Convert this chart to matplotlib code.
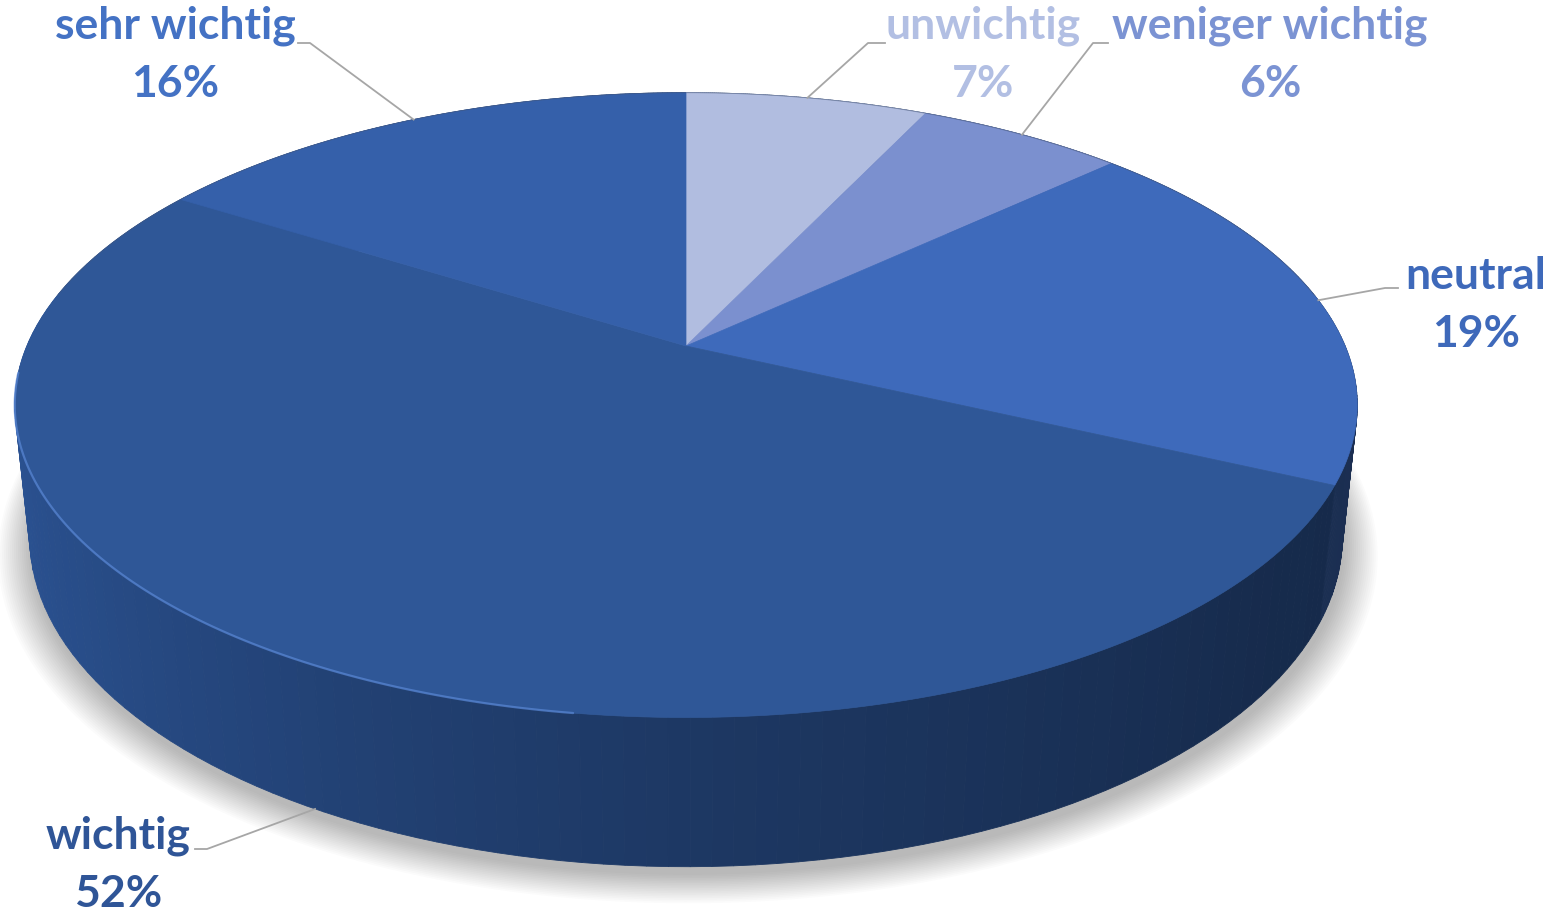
import numpy as np
import matplotlib.pyplot as plt
from matplotlib.patches import Polygon
from matplotlib.colors import to_rgb

# Daten
labels = ['unwichtig', 'weniger wichtig', 'neutral', 'wichtig', 'sehr wichtig']
shares = [7, 6, 19, 52, 16]
top_colors = ['#b1bde0', '#7b90cf', '#3e6abb', '#2f5797', '#3560aa']
text_colors = ['#b2bfe3', '#7b93d3', '#3e69ba', '#2f5597', '#4472c4']
label_xy = [(983, 26), (1270, 26), (1476, 276), (118, 836), (175, 26)]
leader_knee = [(885, 43, 868), (1108, 43, 1093), (1398, 288, 1385), (195, 849, 207), (298, 43, 310)]

# Perspektive (Radius = 1)
cx, cy = 686, 346
s_a, c_a = 0.457, 0.889
D, f, h = 4.70, 3098, 0.226


def proj(phi, z=0.0):
    X, Y = np.cos(phi), np.sin(phi)
    yc = Y * s_a + z * c_a
    d = D + Y * c_a - z * s_a
    return cx + f * X / d, cy - f * yc / d


def side_color(phi_deg, base):
    # heller links, dunkel rechts
    a = (phi_deg % 360)
    stops = [(90, 0.55), (180, 0.95), (215, 0.85), (270, 0.62), (320, 0.48), (360, 0.45), (450, 0.55)]
    if a < 90:
        a += 360
    xs = [p[0] for p in stops]
    ys = [p[1] for p in stops]
    k = np.interp(a, xs, ys)
    return tuple(np.clip(np.array(to_rgb(base)) * k, 0, 1))


fig = plt.figure(figsize=(15.58, 9.14), dpi=100)
ax = fig.add_axes([0, 0, 1, 1])
ax.set_xlim(0, 1558)
ax.set_ylim(914, 0)
ax.axis('off')

# Schatten
full = np.linspace(0, 2 * np.pi, 400)
bx, by = proj(full, -h)
bcx, bcy = bx.mean(), by.mean()
for i in range(18):
    sc = 1.0 + i * 0.003
    px = bcx + (bx - bcx) * sc + 2
    py = bcy + (by - bcy) * sc + 8 + i * 0.6
    ax.add_patch(Polygon(np.column_stack([px, py]), closed=True, facecolor='black',
                         edgecolor='none', alpha=0.016, zorder=1))

# Winkel der Segmente
starts, ends = [], []
acc = 0
for v in shares:
    a0 = np.deg2rad(90 - 360 * acc / 100)
    acc += v
    a1 = np.deg2rad(90 - 360 * acc / 100)
    starts.append(a0)
    ends.append(a1)

# Seitenflaechen
quads = []
for i in range(len(shares)):
    phis = np.linspace(starts[i], ends[i], 120)
    for p0, p1 in zip(phis[:-1], phis[1:]):
        depth = np.sin((p0 + p1) / 2)
        x0t, y0t = proj(p0)
        x1t, y1t = proj(p1)
        x0b, y0b = proj(p0, -h)
        x1b, y1b = proj(p1, -h)
        base = '#2f5aa0' if i != 2 else '#3a64b0'
        col = side_color(np.rad2deg((p0 + p1) / 2), base)
        quads.append((depth, [(x0t, y0t), (x1t, y1t), (x1b, y1b), (x0b, y0b)], col))
quads.sort(key=lambda q: -q[0])
for _, pts, col in quads:
    ax.add_patch(Polygon(pts, closed=True, facecolor=col, edgecolor=col, lw=0.6, zorder=2))

# Deckflaechen
for i in range(len(shares)):
    phis = np.linspace(starts[i], ends[i], 200)
    xs, ys = proj(phis)
    pts = np.column_stack([np.r_[cx, xs], np.r_[cy, ys]])
    ax.add_patch(Polygon(pts, closed=True, facecolor=top_colors[i], edgecolor=top_colors[i],
                         lw=0.5, zorder=3))

# Lichtkante vorne
hl = np.deg2rad(np.linspace(185, 262, 100))
hx, hy = proj(hl)
ax.plot(hx, hy, color='#5a88d6', lw=1.6, alpha=0.7, zorder=4, solid_capstyle='round')
bk = np.deg2rad(np.linspace(10, 170, 200))
kx, ky = proj(bk)
ax.plot(kx, ky, color='#4a5a7a', lw=0.6, alpha=0.5, zorder=4)

# Beschriftungen und Fuehrungslinien
for i, lab in enumerate(labels):
    tx, ty = label_xy[i]
    ax.text(tx, ty, lab, ha='center', va='center', fontsize=32, fontweight='bold',
            family='Lato', color=text_colors[i], zorder=5)
    ax.text(tx, ty + 58, f'{shares[i]}%', ha='center', va='center', fontsize=32,
            fontweight='bold', family='Lato', color=text_colors[i], zorder=5)
    mid = (starts[i] + ends[i]) / 2
    zz = -h if np.sin(mid) < -0.5 else 0.0
    ex, ey = proj(mid, zz)
    kx0, ky0, kx1 = leader_knee[i]
    ax.plot([kx0, kx1, ex], [ky0, ky0, ey], color='#a6a6a6', lw=1.3, zorder=5)

fig.savefig('out.png', dpi=100)
